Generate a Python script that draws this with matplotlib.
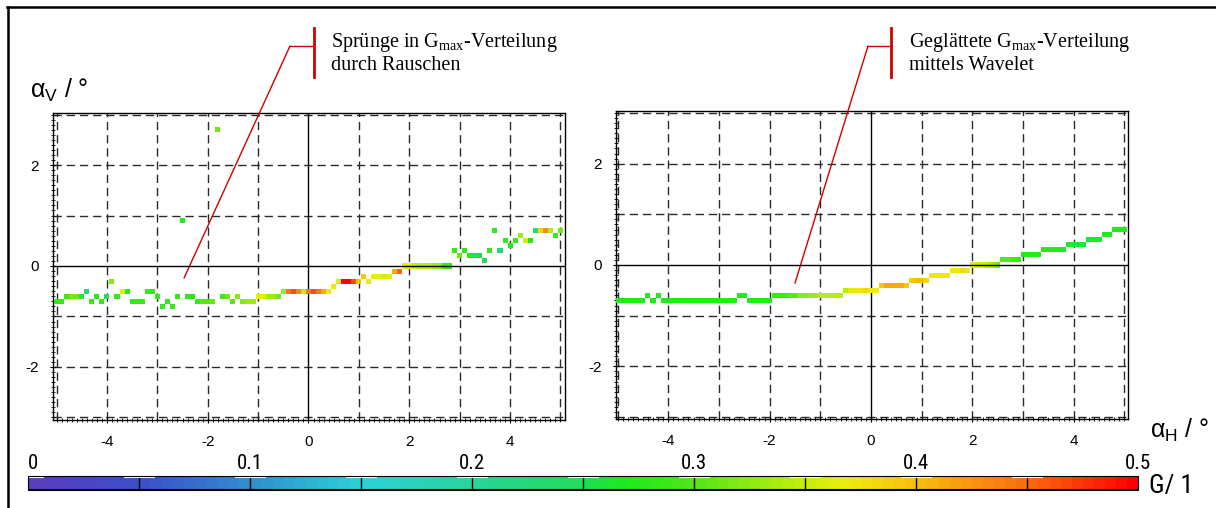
import numpy as np
import matplotlib.pyplot as plt
from matplotlib.colors import LinearSegmentedColormap, Normalize
from matplotlib.cm import ScalarMappable
from matplotlib.lines import Line2D
from matplotlib.ticker import MultipleLocator
from matplotlib import font_manager

plt.rcParams['font.family'] = ['Liberation Sans', 'DejaVu Sans']
plt.rcParams['axes.unicode_minus'] = False

# colour scale for G (0 ... 0.5)
g_stops = [0.0, 0.05, 0.10, 0.15, 0.20, 0.25, 0.27, 0.30, 0.35, 0.37, 0.40, 0.45, 0.50]
g_colors = ['#5a3cbe', '#3a50c8', '#3090d0', '#2dd2d8', '#28d49c', '#22dc56',
            '#1eea1e', '#52e618', '#c4ee10', '#eeec10', '#f8c010', '#f87010', '#ff0000']
cbar_labels = [0.0, 0.1, 0.2, 0.3, 0.4, 0.5]

# raw G_max distribution (noisy): one row per alpha_V, cells along alpha_H
raw_y = [2.7, 0.9, 0.7, 0.6, 0.5, 0.4, 0.3, 0.2, 0.1, 0.0, -0.1, -0.2, -0.3, -0.4, -0.5, -0.6, -0.7, -0.8]
raw_x = [
    [-1.8],
    [-2.5],
    [3.7, 4.5, 4.6, 4.7, 4.8, 5.0],
    [4.2, 4.9],
    [3.9, 4.1, 4.3, 4.4],
    [4.0],
    [2.9, 3.1, 3.6, 3.8],
    [3.0, 3.2, 3.3, 3.4],
    [3.5],
    [1.9, 2.0, 2.1, 2.2, 2.3, 2.4, 2.5, 2.6, 2.7, 2.8],
    [1.7, 1.8],
    [1.1, 1.3, 1.4, 1.5, 1.6],
    [-3.9, 0.6, 0.7, 0.8, 0.9, 1.0, 1.2],
    [0.5],
    [-4.4, -3.7, -3.6, -3.2, -3.1, -0.5, -0.4, -0.3, -0.2, -0.1, 0.0, 0.1, 0.2, 0.3, 0.4],
    [-4.8, -4.7, -4.6, -4.5, -4.2, -4.0, -3.8, -3.0, -2.6, -2.4, -2.3, -1.7, -1.6, -1.4,
     -1.0, -0.9, -0.8, -0.7, -0.6],
    [-5.0, -4.9, -4.3, -4.1, -3.5, -3.4, -3.3, -2.8, -2.2, -2.1, -2.0, -1.9, -1.5, -1.3,
     -1.2, -1.1],
    [-2.9, -2.7],
]
raw_g = [
    [0.31],
    [0.27],
    [0.28, 0.22, 0.38, 0.43, 0.34, 0.31],
    [0.33, 0.28],
    [0.28, 0.28, 0.35, 0.27],
    [0.27],
    [0.28, 0.28, 0.28, 0.22],
    [0.31, 0.27, 0.25, 0.25],
    [0.24],
    [0.37, 0.36, 0.35, 0.34, 0.34, 0.34, 0.33, 0.33, 0.28, 0.28],
    [0.41, 0.45],
    [0.39, 0.36, 0.36, 0.35, 0.37],
    [0.32, 0.37, 0.50, 0.50, 0.46, 0.40, 0.37],
    [0.37],
    [0.22, 0.36, 0.27, 0.28, 0.28, 0.33, 0.44, 0.46, 0.43, 0.38, 0.44, 0.46, 0.44, 0.41, 0.37],
    [0.28, 0.31, 0.31, 0.26, 0.27, 0.25, 0.28, 0.28, 0.28, 0.28, 0.27, 0.29, 0.31, 0.32,
     0.37, 0.36, 0.33, 0.33, 0.31],
    [0.28, 0.28, 0.28, 0.28, 0.28, 0.28, 0.29, 0.28, 0.28, 0.30, 0.30, 0.31, 0.30, 0.32,
     0.33, 0.33],
    [0.28, 0.28],
]

# wavelet-smoothed G_max distribution
smooth_y = [0.7, 0.6, 0.5, 0.4, 0.3, 0.2, 0.1, 0.0, -0.1, -0.2, -0.3, -0.4, -0.5, -0.6, -0.7]
smooth_x = [
    [4.8, 4.9, 5.0],
    [4.6, 4.7],
    [4.3, 4.4, 4.5],
    [3.9, 4.0, 4.1, 4.2],
    [3.4, 3.5, 3.6, 3.7, 3.8],
    [3.0, 3.1, 3.2, 3.3],
    [2.6, 2.7, 2.8, 2.9],
    [2.0, 2.1, 2.2, 2.3, 2.4, 2.5],
    [1.6, 1.7, 1.8, 1.9],
    [1.2, 1.3, 1.4, 1.5],
    [0.8, 0.9, 1.0, 1.1],
    [0.2, 0.3, 0.4, 0.5, 0.6, 0.7],
    [-0.5, -0.4, -0.3, -0.2, -0.1, 0.0, 0.1],
    [-4.4, -4.2, -2.6, -2.5, -1.9, -1.8, -1.7, -1.6, -1.5, -1.4, -1.3, -1.2, -1.1, -1.0,
     -0.9, -0.8, -0.7, -0.6],
    [-5.0, -4.9, -4.8, -4.7, -4.6, -4.5, -4.3, -4.1, -4.0, -3.9, -3.8, -3.7, -3.6, -3.5,
     -3.4, -3.3, -3.2, -3.1, -3.0, -2.9, -2.8, -2.7, -2.4, -2.3, -2.2, -2.1, -2.0],
]
smooth_g = [
    [0.27, 0.27, 0.27],
    [0.27, 0.27],
    [0.26, 0.26, 0.26],
    [0.26, 0.26, 0.26, 0.26],
    [0.27, 0.27, 0.27, 0.27, 0.26],
    [0.27, 0.27, 0.27, 0.27],
    [0.30, 0.30, 0.29, 0.29],
    [0.36, 0.35, 0.35, 0.34, 0.33, 0.31],
    [0.37, 0.37, 0.38, 0.37],
    [0.37, 0.37, 0.37, 0.37],
    [0.39, 0.40, 0.40, 0.38],
    [0.39, 0.41, 0.41, 0.41, 0.41, 0.39],
    [0.34, 0.36, 0.37, 0.37, 0.38, 0.37, 0.37],
    [0.27, 0.27, 0.27, 0.27, 0.28, 0.28, 0.29, 0.30, 0.30, 0.32, 0.32, 0.33, 0.33, 0.34,
     0.34, 0.34, 0.34, 0.34],
    [0.27, 0.27, 0.27, 0.27, 0.27, 0.27, 0.27, 0.27, 0.27, 0.27, 0.27, 0.27, 0.27, 0.27,
     0.27, 0.27, 0.27, 0.27, 0.27, 0.27, 0.27, 0.27, 0.27, 0.27, 0.27, 0.27, 0.27],
]

cmap = LinearSegmentedColormap.from_list(
    'gscale', list(zip(np.array(g_stops) / 0.5, g_colors)), N=100)
norm = Normalize(0.0, 0.5)

W, H = 1216, 508
fig = plt.figure(figsize=(W / 100, H / 100), dpi=100)


def fx(px):
    return px / W


def fy(py):
    return 1 - py / H


def grid_map(ax, ys, xs, gs):
    # 0.1 x 0.1 cells on the alpha_H / alpha_V grid
    xe = np.round(np.arange(-5.05, 5.06, 0.1), 2)
    ye = np.round(np.arange(-3.05, 3.06, 0.1), 2)
    z = np.full((len(ye) - 1, len(xe) - 1), np.nan)
    for yv, xrow, grow in zip(ys, xs, gs):
        j = int(round((yv + 3.0) / 0.1))
        for xv, gv in zip(xrow, grow):
            i = int(round((xv + 5.0) / 0.1))
            z[j, i] = gv
    ax.pcolormesh(xe, ye, np.ma.masked_invalid(z), cmap=cmap, norm=norm, zorder=3)


def style_axes(ax):
    for v in range(-5, 6):
        if v == 0:
            ax.axvline(0, color='black', lw=1, zorder=2)
        else:
            ax.axvline(v, color='#2a2a2a', lw=1, ls=(0, (6, 3.5)), zorder=1)
    for v in range(-3, 4):
        if v == 0:
            ax.axhline(0, color='black', lw=1, zorder=4)
        else:
            ax.axhline(v, color='#2a2a2a', lw=1, ls=(0, (6, 3.5)), zorder=1)
    ax.set_xticks([-4, -2, 0, 2, 4])
    ax.set_yticks([-2, 0, 2])
    ax.xaxis.set_minor_locator(MultipleLocator(0.1))
    ax.yaxis.set_minor_locator(MultipleLocator(0.1))
    ax.tick_params(which='major', direction='inout', length=5, width=0.8,
                   labelsize=11, pad=8)
    ax.tick_params(which='minor', direction='inout', length=3, width=0.6)
    for s in ax.spines.values():
        s.set_linewidth(1.0)


ax1 = fig.add_axes([fx(53), fy(420), fx(565 - 53), (420 - 113) / H])
ax1.set_xlim(-5.07, 5.09)
ax1.set_ylim(-3.05, 3.03)
grid_map(ax1, raw_y, raw_x, raw_g)
style_axes(ax1)

ax2 = fig.add_axes([fx(616), fy(419), fx(1128 - 616), (419 - 111) / H])
ax2.set_xlim(-5.03, 5.07)
ax2.set_ylim(-3.04, 3.04)
grid_map(ax2, smooth_y, smooth_x, smooth_g)
style_axes(ax2)

# axis titles
fig.text(fx(30), fy(90), r'$\mathregular{α_V}$ / °', fontsize=18, va='center', ha='left')
fig.text(fx(1150), fy(430), r'$\mathregular{α_H}$ / °', fontsize=18, va='center', ha='left')

# annotations with red leader lines
red = '#d00000'
serif = ['Liberation Serif', 'DejaVu Serif']
fig.text(fx(331), fy(42), r'Sprünge in G$_{\mathregular{max}}$-Verteilung',
         family=serif, fontsize=14.5, va='center', ha='left')
fig.text(fx(331), fy(66), 'durch Rauschen', family=serif, fontsize=14.5, va='center', ha='left')
fig.text(fx(909), fy(42), r'Geglättete G$_{\mathregular{max}}$-Verteilung',
         family=serif, fontsize=14.5, va='center', ha='left')
fig.text(fx(909), fy(66), 'mittels Wavelet', family=serif, fontsize=14.5, va='center', ha='left')

for xb, xk in [(313.5, 290), (891, 868)]:
    fig.add_artist(Line2D([fx(xb), fx(xb)], [fy(28), fy(77)], color=red, lw=2))
    fig.add_artist(Line2D([fx(xk), fx(xb)], [fy(46), fy(46)], color=red, lw=1))

ax1.annotate('', xy=(-2.47, -0.24), xycoords='data', xytext=(fx(290), fy(46)),
             textcoords='figure fraction', annotation_clip=False,
             arrowprops=dict(arrowstyle='-', color=red, lw=1, shrinkA=0, shrinkB=0))
ax2.annotate('', xy=(-1.50, -0.36), xycoords='data', xytext=(fx(868), fy(46)),
             textcoords='figure fraction', annotation_clip=False,
             arrowprops=dict(arrowstyle='-', color=red, lw=1, shrinkA=0, shrinkB=0))

# narrow face for the colour bar texts, if one is installed
narrow = ['Liberation Sans', 'DejaVu Sans']
installed = {f.name for f in font_manager.fontManager.ttflist}
for cand in ['Liberation Sans Narrow', 'DejaVu Sans Condensed', 'Roboto Condensed']:
    if cand in installed:
        narrow = [cand, 'DejaVu Sans']
        break

# colour bar
cax = fig.add_axes([fx(28.3), fy(490), fx(1110), 14.3 / H])
cb = fig.colorbar(ScalarMappable(norm=norm, cmap=cmap), cax=cax, orientation='horizontal')
cb.set_ticks([])
cb.outline.set_linewidth(0.8)
for v in np.arange(0.05, 0.5, 0.05):
    cax.axvline(v, color='black', lw=1)
    cax.plot([v - 0.007, v + 0.007], [0.9, 0.9], color='white', lw=1.5,
             transform=cax.get_xaxis_transform(), solid_capstyle='butt')
cax.plot([0.0, 0.007], [0.9, 0.9], color='white', lw=1.5,
         transform=cax.get_xaxis_transform(), solid_capstyle='butt')
cax.axhline(0.0, color='black', lw=1.5)
for v in cbar_labels:
    cax.text(v, 1.2, f'{v:g}', transform=cax.get_xaxis_transform(),
             ha='left' if v == 0 else 'center', va='bottom', family=narrow, fontsize=15)
fig.text(fx(1149), fy(486), 'G/ 1', family=narrow, fontsize=19, va='center', ha='left')

# outer frame
fig.add_artist(Line2D([fx(7), 1.0], [fy(7), fy(7)], color='black', lw=1.8))
fig.add_artist(Line2D([fx(8), fx(8)], [fy(7), 0.0], color='black', lw=1.8))

fig.savefig('out.png', dpi=100, facecolor='white')
